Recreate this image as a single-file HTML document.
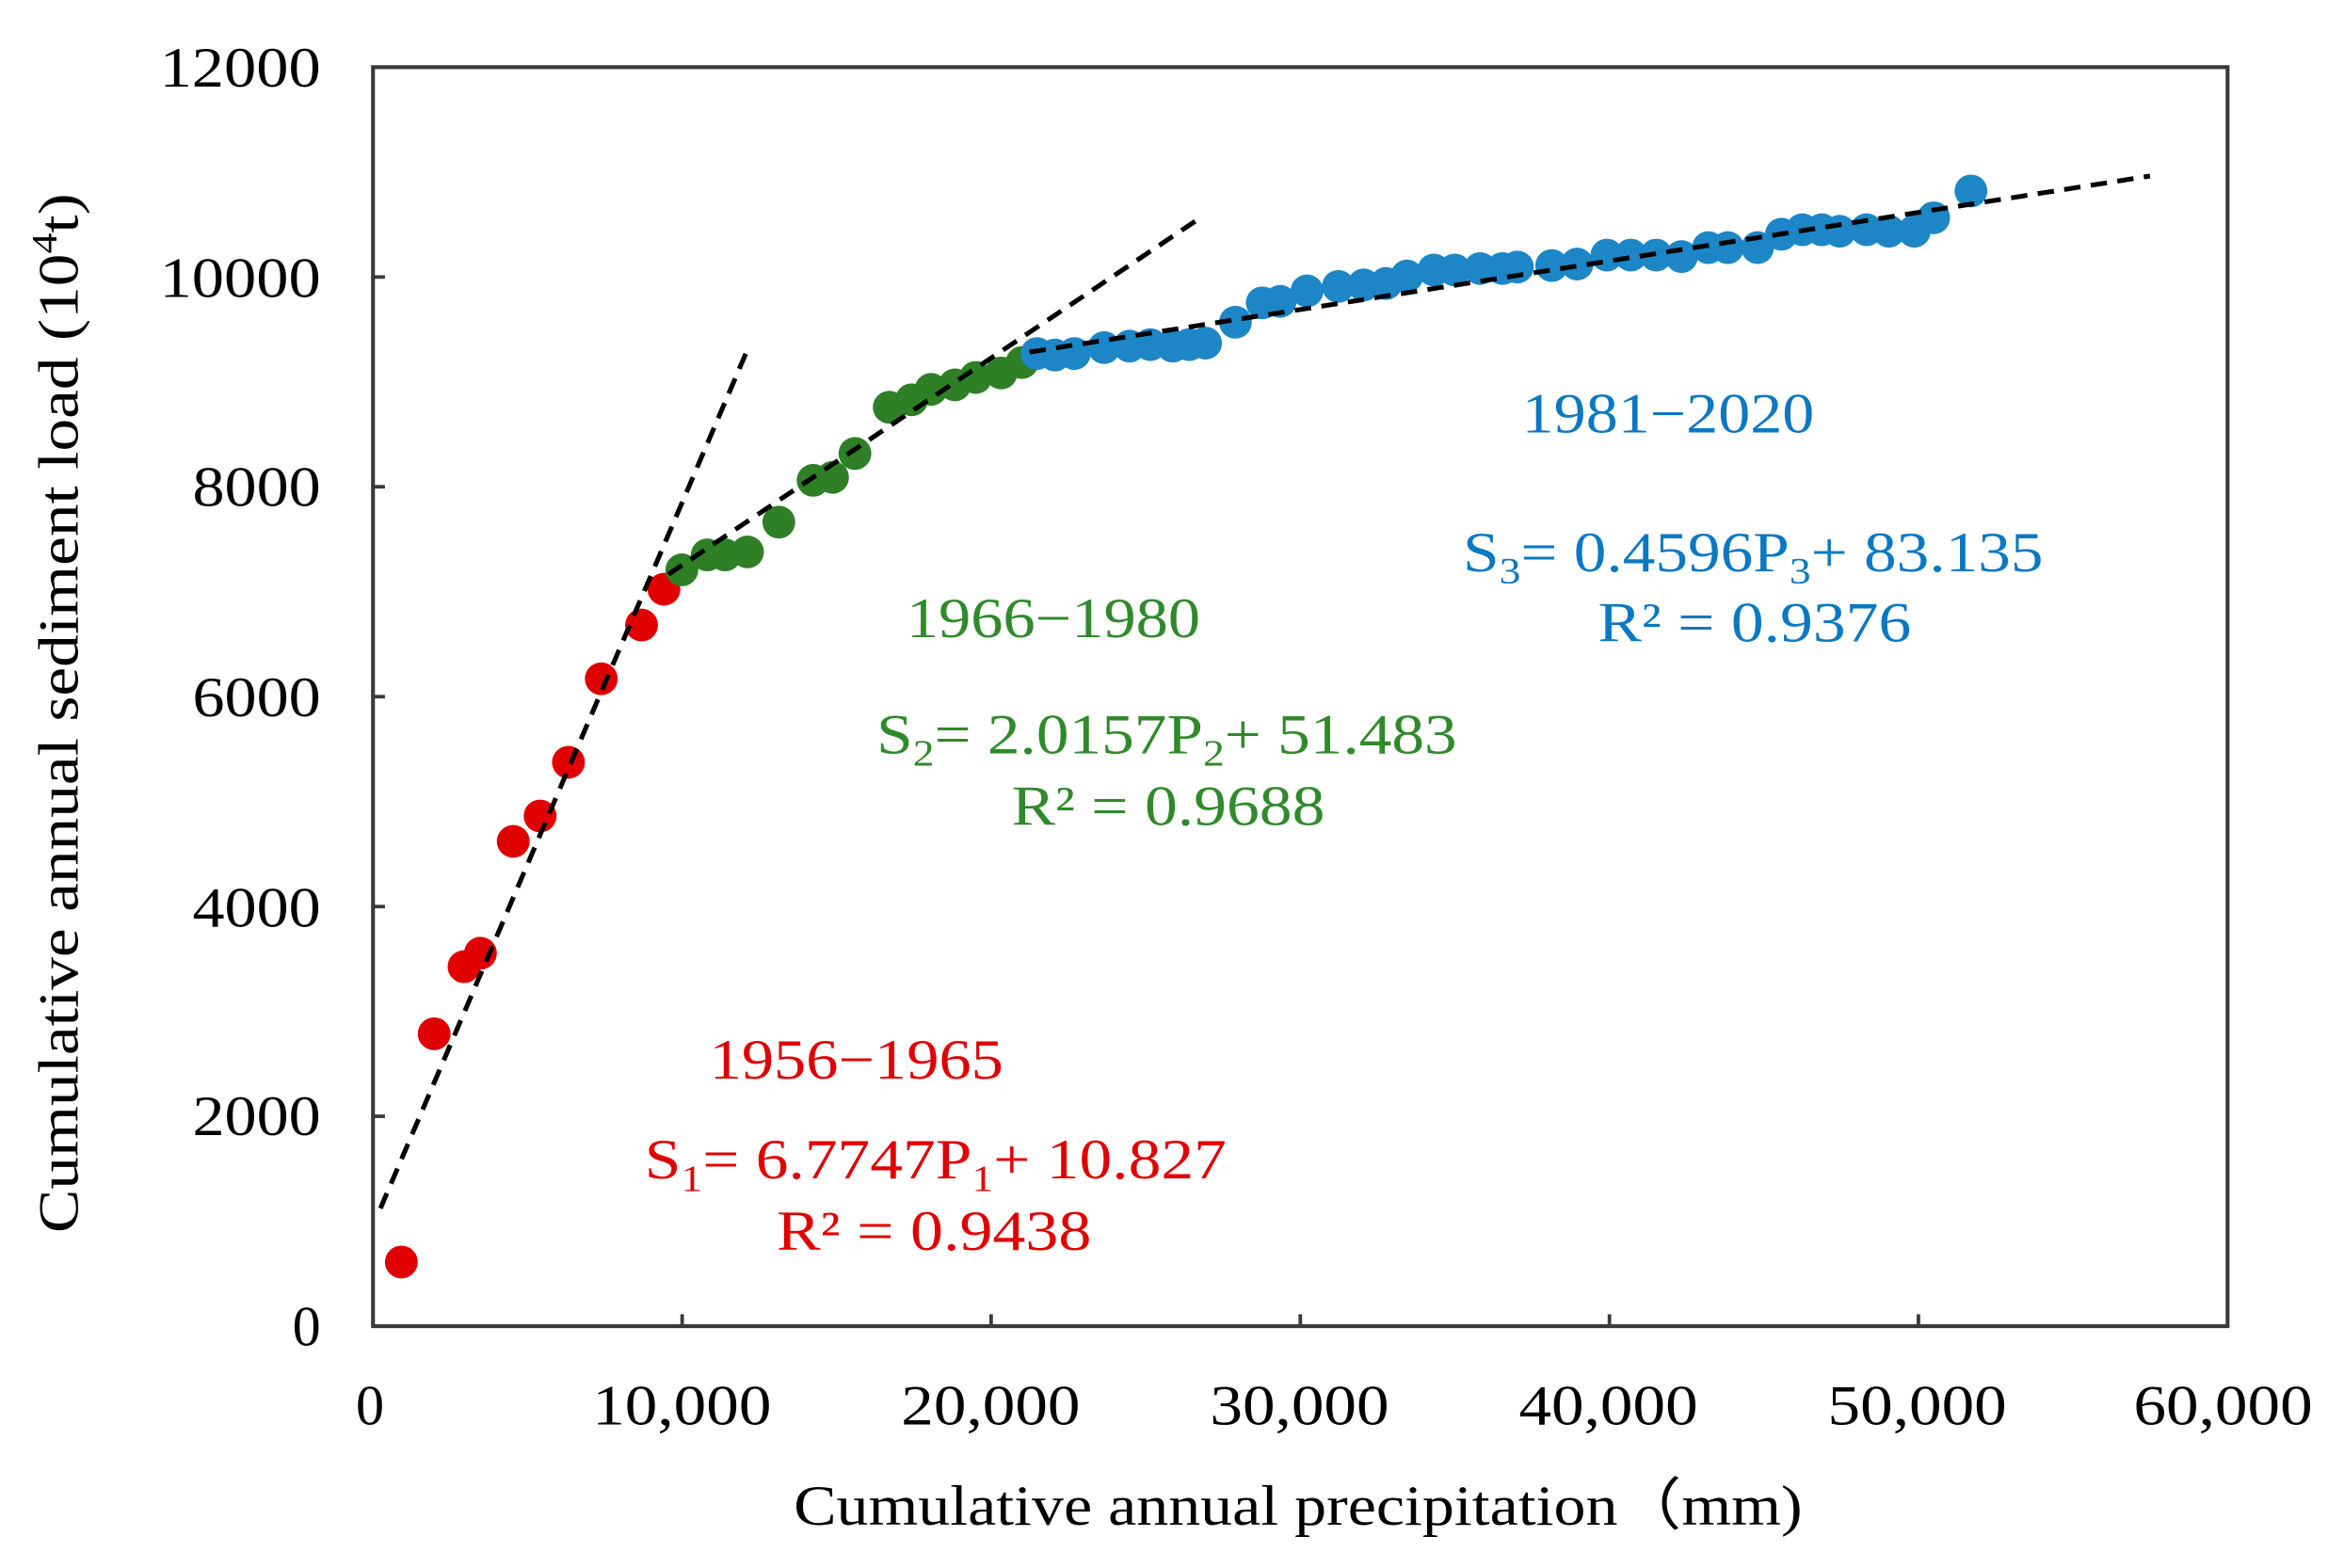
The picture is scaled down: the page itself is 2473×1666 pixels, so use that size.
<!DOCTYPE html>
<html><head><meta charset="utf-8"><style>html,body{margin:0;padding:0;background:#fff}svg{display:block}text{font-family:"Liberation Serif","Times New Roman",serif}</style></head>
<body>
<svg width="2473" height="1666" viewBox="0 0 1560.3 1051.1" preserveAspectRatio="none" xmlns="http://www.w3.org/2000/svg" font-family="'Liberation Serif', 'Times New Roman', serif">
<rect x="0" y="0" width="1561" height="1052" fill="#fff"/>
<rect x="250" y="45" width="1243" height="844" fill="none" stroke="#3a3a3a" stroke-width="2.6"/>
<g stroke="#3a3a3a" stroke-width="2.4">
<line x1="457.2" y1="889" x2="457.2" y2="881"/><line x1="664.3" y1="889" x2="664.3" y2="881"/><line x1="871.5" y1="889" x2="871.5" y2="881"/><line x1="1078.7" y1="889" x2="1078.7" y2="881"/><line x1="1285.8" y1="889" x2="1285.8" y2="881"/>
<line x1="250" y1="748.3" x2="258" y2="748.3"/><line x1="250" y1="607.7" x2="258" y2="607.7"/><line x1="250" y1="467" x2="258" y2="467"/><line x1="250" y1="326.3" x2="258" y2="326.3"/><line x1="250" y1="185.7" x2="258" y2="185.7"/>
</g>
<g font-size="38" fill="#000" text-anchor="end">
<text x="215" y="58" textLength="108" lengthAdjust="spacingAndGlyphs">12000</text>
<text x="215" y="199" textLength="108" lengthAdjust="spacingAndGlyphs">10000</text>
<text x="215" y="339" textLength="86" lengthAdjust="spacingAndGlyphs">8000</text>
<text x="215" y="480" textLength="86" lengthAdjust="spacingAndGlyphs">6000</text>
<text x="215" y="621" textLength="86" lengthAdjust="spacingAndGlyphs">4000</text>
<text x="215" y="761" textLength="86" lengthAdjust="spacingAndGlyphs">2000</text>
<text x="215" y="902">0</text>
</g>
<g font-size="38" fill="#000" text-anchor="middle">
<text x="248" y="955">0</text>
<text x="457" y="955" textLength="120" lengthAdjust="spacingAndGlyphs">10,000</text>
<text x="664" y="955" textLength="120" lengthAdjust="spacingAndGlyphs">20,000</text>
<text x="871" y="955" textLength="120" lengthAdjust="spacingAndGlyphs">30,000</text>
<text x="1078" y="955" textLength="120" lengthAdjust="spacingAndGlyphs">40,000</text>
<text x="1285" y="955" textLength="120" lengthAdjust="spacingAndGlyphs">50,000</text>
<text x="1490" y="955" textLength="120" lengthAdjust="spacingAndGlyphs">60,000</text>
<text x="870" y="1022" textLength="676" lengthAdjust="spacingAndGlyphs">Cumulative annual precipitation（mm)</text>
<text transform="translate(52,478) rotate(-90)" textLength="697" lengthAdjust="spacingAndGlyphs">Cumulative annual sediment load (10<tspan font-size="24" dy="-14">4</tspan><tspan dy="14">t)</tspan></text>
</g>
<g fill="#e00000">
<circle cx="269" cy="846" r="11"/><circle cx="291" cy="693" r="11"/><circle cx="311" cy="648" r="11"/><circle cx="322" cy="639" r="11"/><circle cx="344" cy="564" r="11"/><circle cx="362" cy="547" r="11"/><circle cx="381" cy="511" r="11"/><circle cx="403" cy="455" r="11"/><circle cx="430" cy="419" r="11"/><circle cx="445" cy="395" r="11"/>
</g>
<g fill="#2e7f26">
<circle cx="457" cy="382" r="11"/><circle cx="474" cy="372" r="11"/><circle cx="486" cy="372" r="11"/><circle cx="501" cy="370" r="11"/><circle cx="522" cy="350" r="11"/><circle cx="545" cy="322" r="11"/><circle cx="558" cy="320" r="11"/><circle cx="573" cy="304" r="11"/><circle cx="596" cy="273" r="11"/><circle cx="611" cy="268" r="11"/><circle cx="624" cy="261" r="11"/><circle cx="640" cy="258" r="11"/><circle cx="654" cy="253" r="11"/><circle cx="671" cy="250" r="11"/><circle cx="685" cy="243" r="11"/>
</g>
<g fill="#1d86c6">
<circle cx="695" cy="237" r="11"/><circle cx="707" cy="238" r="11"/><circle cx="720" cy="237" r="11"/><circle cx="740" cy="233" r="11"/><circle cx="757" cy="232" r="11"/><circle cx="771" cy="231" r="11"/><circle cx="786" cy="232" r="11"/><circle cx="797" cy="231" r="11"/><circle cx="808" cy="230" r="11"/><circle cx="828" cy="216" r="11"/><circle cx="846" cy="203" r="11"/><circle cx="858" cy="202" r="11"/><circle cx="876" cy="195" r="11"/><circle cx="897" cy="192" r="11"/><circle cx="914" cy="191" r="11"/><circle cx="929" cy="190" r="11"/><circle cx="943" cy="185" r="11"/><circle cx="961" cy="181" r="11"/><circle cx="975" cy="181" r="11"/><circle cx="992" cy="180" r="11"/><circle cx="1007" cy="180" r="11"/><circle cx="1017" cy="179" r="11"/><circle cx="1040" cy="178" r="11"/><circle cx="1057" cy="177" r="11"/><circle cx="1077" cy="171" r="11"/><circle cx="1093" cy="171" r="11"/><circle cx="1110" cy="171" r="11"/><circle cx="1127" cy="172" r="11"/><circle cx="1145" cy="166" r="11"/><circle cx="1158" cy="166" r="11"/><circle cx="1178" cy="166" r="11"/><circle cx="1194" cy="157" r="11"/><circle cx="1208" cy="154" r="11"/><circle cx="1221" cy="154" r="11"/><circle cx="1233" cy="155" r="11"/><circle cx="1251" cy="154" r="11"/><circle cx="1266" cy="155" r="11"/><circle cx="1283" cy="155" r="11"/><circle cx="1296" cy="146" r="11"/><circle cx="1321" cy="128" r="11"/>
</g>
<g stroke="#000" stroke-width="3.2" stroke-dasharray="11,7" fill="none">
<line x1="255" y1="810" x2="502" y2="232"/>
<line x1="448" y1="385" x2="803" y2="147"/>
<line x1="690" y1="236" x2="1441" y2="118"/>
</g>
<g font-size="38" text-anchor="middle">
<g fill="#0a78c2">
<text x="1118" y="290" textLength="196" lengthAdjust="spacingAndGlyphs">1981−2020</text>
<text x="1175" y="383" textLength="389" lengthAdjust="spacingAndGlyphs">S<tspan font-size="25" dy="8">3</tspan><tspan dy="-8">= 0.4596P</tspan><tspan font-size="25" dy="8">3</tspan><tspan dy="-8">+ 83.135</tspan></text>
<text x="1176" y="430" textLength="210" lengthAdjust="spacingAndGlyphs">R² = 0.9376</text>
</g>
<g fill="#2f8a2a">
<text x="706" y="427" textLength="197" lengthAdjust="spacingAndGlyphs">1966−1980</text>
<text x="782" y="505" textLength="389" lengthAdjust="spacingAndGlyphs">S<tspan font-size="25" dy="8">2</tspan><tspan dy="-8">= 2.0157P</tspan><tspan font-size="25" dy="8">2</tspan><tspan dy="-8">+ 51.483</tspan></text>
<text x="783" y="553" textLength="210" lengthAdjust="spacingAndGlyphs">R² = 0.9688</text>
</g>
<g fill="#e00000">
<text x="574" y="723" textLength="197" lengthAdjust="spacingAndGlyphs">1956−1965</text>
<text x="627" y="790" textLength="390" lengthAdjust="spacingAndGlyphs">S<tspan font-size="25" dy="8">1</tspan><tspan dy="-8">= 6.7747P</tspan><tspan font-size="25" dy="8">1</tspan><tspan dy="-8">+ 10.827</tspan></text>
<text x="626" y="838" textLength="211" lengthAdjust="spacingAndGlyphs">R² = 0.9438</text>
</g>
</g>
</svg>
</body></html>
